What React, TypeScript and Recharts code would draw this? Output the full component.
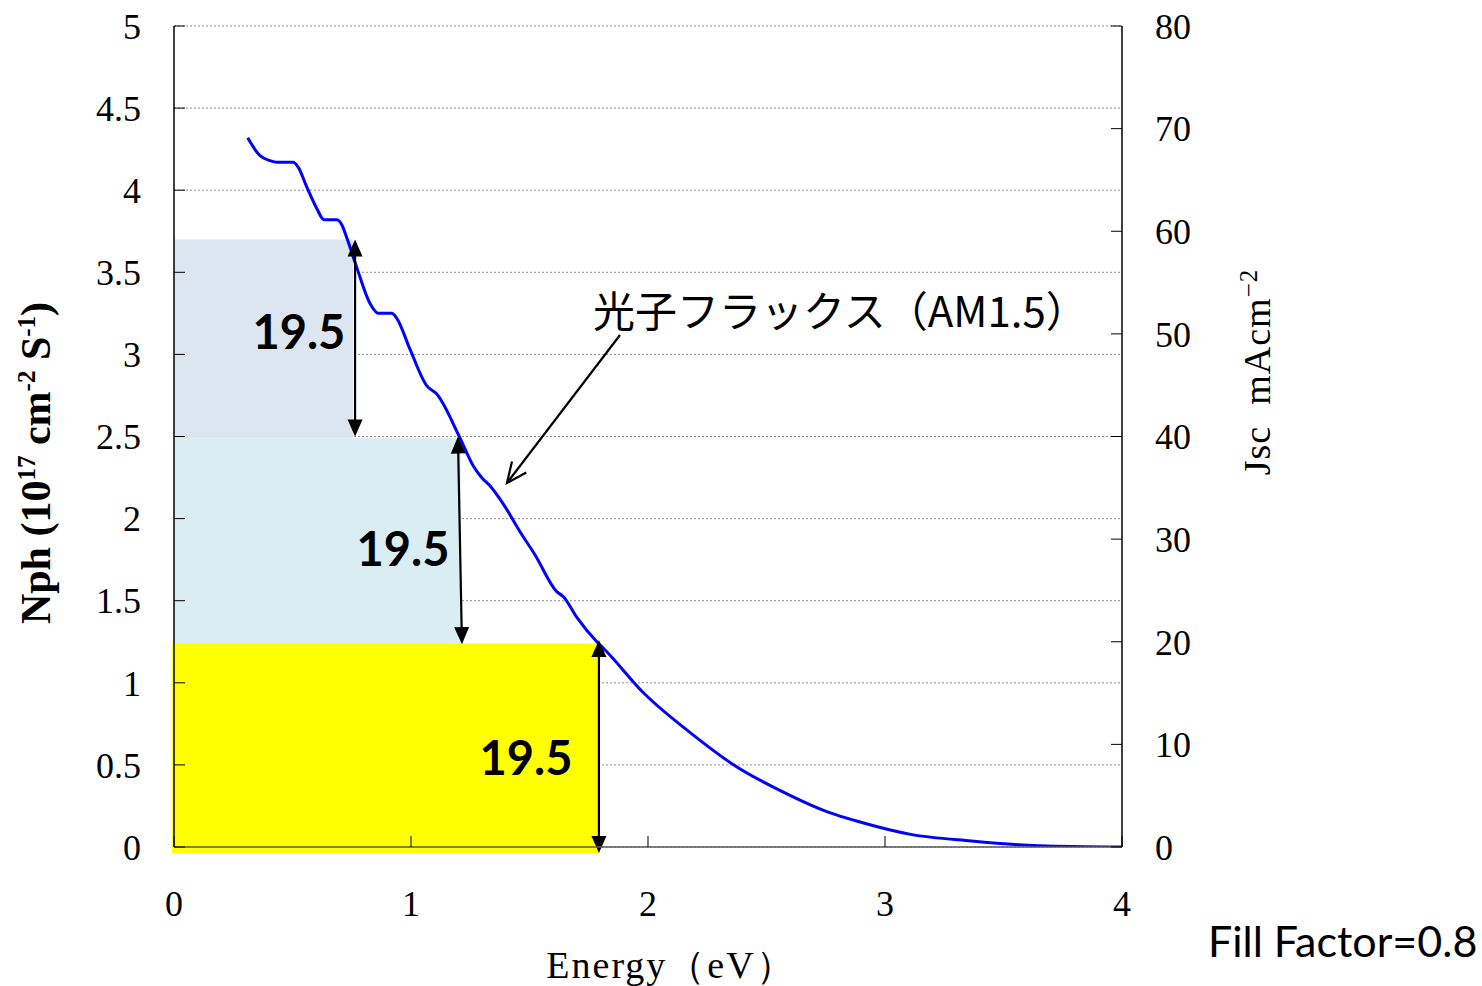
import React from "react";
import {
  ComposedChart,
  Line,
  XAxis,
  YAxis,
  CartesianGrid,
  ReferenceArea,
  ReferenceLine,
  ReferenceDot,
} from "recharts";

// photon flux (AM1.5)
const energy = [
  0.311, 0.363, 0.405, 0.433, 0.503, 0.524, 0.56, 0.602, 0.633, 0.686, 0.708,
  0.729, 0.771, 0.827, 0.862, 0.919, 0.94, 0.996, 1.066, 1.108, 1.207, 1.263,
  1.298, 1.333, 1.389, 1.46, 1.523, 1.615, 1.643, 1.699, 1.784, 1.819, 1.983,
  2.182, 2.367, 2.567, 2.766, 2.88, 3.108, 3.364, 3.649, 4.0,
];
const nph = [
  4.32, 4.21, 4.18, 4.17, 4.17, 4.14, 4.02, 3.89, 3.82, 3.82, 3.79, 3.71, 3.53,
  3.31, 3.25, 3.25, 3.22, 3.03, 2.81, 2.76, 2.49, 2.32, 2.25, 2.2, 2.09, 1.92,
  1.78, 1.555, 1.524, 1.4, 1.25, 1.2, 0.936, 0.692, 0.495, 0.337, 0.209, 0.158,
  0.077, 0.037, 0.008, 0.0,
];

const xTicks = [0, 1, 2, 3, 4];
const leftTicks = [0, 0.5, 1, 1.5, 2, 2.5, 3, 3.5, 4, 4.5, 5];
const rightTicks = [0, 10, 20, 30, 40, 50, 60, 70, 80];

// the three 19.5 mA/cm2 blocks
const blockRight = [0.755, 1.21, 1.793];
const blockTop = [3.7, 2.49, 1.24];
const blockBottom = [2.49, 1.235, -0.036];
const blockColors = ["#dce6f1", "#daedf3", "#ffff00"];
const blockLabel = ["19.5", "19.5", "19.5"];
const labelX = [0.527, 0.966, 1.485];
const labelY = [3.14, 1.82, 0.548];

// double arrows (top end -> bottom end)
const arrowTopX = [0.764, 1.198, 1.793];
const arrowTopY = [3.7, 2.5, 1.26];
const arrowBotX = [0.764, 1.215, 1.793];
const arrowBotY = [2.5, 1.235, -0.036];

const curve = energy.map((e, i) => ({ e, n: nph[i] }));

const serif = "'Liberation Serif', 'Times New Roman', serif";

function DoubleArrow(p: any) {
  const { x1, y1, x2, y2 } = p;
  const dx = x2 - x1;
  const dy = y2 - y1;
  const len = Math.sqrt(dx * dx + dy * dy) || 1;
  const ux = dx / len;
  const uy = dy / len;
  const hl = 17;
  const hw = 7.5;
  const head = (tx: number, ty: number, dir: number) => {
    const bx = tx - dir * ux * hl;
    const by = ty - dir * uy * hl;
    return `${tx},${ty} ${bx - uy * hw},${by + ux * hw} ${bx + uy * hw},${by - ux * hw}`;
  };
  return (
    <g>
      <line
        x1={x1 + ux * hl * 0.8}
        y1={y1 + uy * hl * 0.8}
        x2={x2 - ux * hl * 0.8}
        y2={y2 - uy * hl * 0.8}
        stroke="#000"
        strokeWidth={2.2}
      />
      <polygon points={head(x1, y1, -1)} fill="#000" />
      <polygon points={head(x2, y2, 1)} fill="#000" />
    </g>
  );
}

function OpenArrow(p: any) {
  const { x1, y1, x2, y2 } = p;
  const dx = x2 - x1;
  const dy = y2 - y1;
  const len = Math.sqrt(dx * dx + dy * dy) || 1;
  const ux = dx / len;
  const uy = dy / len;
  const hl = 20;
  const hw = 9;
  const bx = x2 - ux * hl;
  const by = y2 - uy * hl;
  return (
    <g stroke="#000" strokeWidth={2.2} fill="none">
      <line x1={x1} y1={y1} x2={x2} y2={y2} />
      <polyline
        points={`${bx - uy * hw},${by + ux * hw} ${x2},${y2} ${bx + uy * hw},${by - ux * hw}`}
      />
    </g>
  );
}

const BigLabel = (text: string) => (p: any) =>
  (
    <text
      x={p.cx}
      y={p.cy}
      textAnchor="middle"
      dominantBaseline="central"
      fontFamily="Lato, 'Open Sans', sans-serif"
      fontWeight={700}
      fontSize={47}
      fill="#000"
    >
      {text}
    </text>
  );

const FluxLabel = (p: any) => (
  <text
    x={p.cx}
    y={p.cy}
    textAnchor="start"
    dominantBaseline="central"
    fontFamily="'Noto Sans CJK JP', sans-serif"
    fontSize={42}
    fill="#000"
  >
    光子フラックス（AM1.5）
  </text>
);

export default function App() {
  const tickStyle = { fontSize: 36, fill: "#000", fontFamily: serif };
  const sup = { fontSize: 25 };
  return (
    <div
      style={{
        position: "absolute",
        left: 0,
        top: 0,
        width: 1482,
        height: 986,
        background: "#fff",
      }}
    >
      <ComposedChart
        width={1482}
        height={986}
        data={curve}
        margin={{ top: 26, right: 260, bottom: 79, left: 74 }}
      >
        <CartesianGrid
          yAxisId="left"
          horizontal
          vertical={false}
          stroke="#8c8c8c"
          strokeDasharray="2 2"
        />
        <XAxis
          dataKey="e"
          type="number"
          domain={[0, 4]}
          ticks={xTicks}
          height={60}
          tickSize={-11}
          tickMargin={54}
          tick={tickStyle}
          axisLine={{ stroke: "#595959", strokeWidth: 1.5 }}
          tickLine={{ stroke: "#000" }}
          allowDataOverflow
        />
        <YAxis
          yAxisId="left"
          type="number"
          domain={[0, 5]}
          ticks={leftTicks}
          width={100}
          tickSize={-11}
          tickMargin={44}
          tick={tickStyle}
          axisLine={{ stroke: "#000", strokeWidth: 1.5 }}
          tickLine={{ stroke: "#000" }}
          allowDataOverflow
        />
        <YAxis
          yAxisId="right"
          orientation="right"
          type="number"
          domain={[0, 80]}
          ticks={rightTicks}
          width={100}
          tickSize={-11}
          tickMargin={44}
          tick={tickStyle}
          axisLine={{ stroke: "#000", strokeWidth: 1.5 }}
          tickLine={{ stroke: "#000" }}
          allowDataOverflow
        />
        {blockRight.map((r, i) => (
          <ReferenceArea
            key={"area" + i}
            yAxisId="left"
            x1={i === 2 ? -0.008 : 0}
            x2={r}
            y1={blockBottom[i]}
            y2={blockTop[i]}
            fill={blockColors[i]}
            fillOpacity={1}
            stroke="none"
            ifOverflow="visible"
          />
        ))}
        <Line
          yAxisId="left"
          dataKey="n"
          type="monotone"
          stroke="#0000ff"
          strokeWidth={3}
          dot={false}
          activeDot={false}
          isAnimationActive={false}
        />
        {arrowTopX.map((x, i) => (
          <ReferenceLine
            key={"arrow" + i}
            yAxisId="left"
            segment={[
              { x, y: arrowTopY[i] },
              { x: arrowBotX[i], y: arrowBotY[i] },
            ]}
            ifOverflow="visible"
            shape={(p: any) => <DoubleArrow {...p} />}
          />
        ))}
        <ReferenceLine
          yAxisId="left"
          segment={[
            { x: 1.882, y: 3.118 },
            { x: 1.405, y: 2.217 },
          ]}
          ifOverflow="visible"
          shape={(p: any) => <OpenArrow {...p} />}
        />
        {labelX.map((x, i) => (
          <ReferenceDot
            key={"lbl" + i}
            yAxisId="left"
            x={x}
            y={labelY[i]}
            r={0}
            ifOverflow="visible"
            shape={BigLabel(blockLabel[i])}
          />
        ))}
        <ReferenceDot
          yAxisId="left"
          x={1.768}
          y={3.28}
          r={0}
          ifOverflow="visible"
          shape={FluxLabel}
        />
      </ComposedChart>

      {/* axis titles */}
      <div
        style={{
          position: "absolute",
          left: 36,
          top: 463,
          transform: "translate(-50%, -50%) rotate(-90deg)",
          whiteSpace: "nowrap",
          fontFamily: serif,
          fontWeight: 700,
          fontSize: 42,
          color: "#000",
        }}
      >
        Nph (10<sup style={sup}>17</sup> cm<sup style={sup}>-2</sup> S
        <sup style={sup}>-1</sup>)
      </div>
      <div
        style={{
          position: "absolute",
          left: 1257,
          top: 372,
          transform: "translate(-50%, -50%) rotate(-90deg)",
          whiteSpace: "nowrap",
          fontFamily: serif,
          fontSize: 38,
          letterSpacing: 1,
          color: "#000",
        }}
      >
        Jsc&nbsp;&nbsp;mAcm<sup style={sup}>−2</sup>
      </div>
      <div
        style={{
          position: "absolute",
          left: 671,
          top: 965,
          transform: "translate(-50%, -50%)",
          whiteSpace: "nowrap",
          fontFamily: serif,
          fontSize: 38,
          letterSpacing: 2,
          color: "#000",
        }}
      >
        Energy（eV）
      </div>
      <div
        style={{
          position: "absolute",
          left: 1208,
          top: 940,
          transform: "translate(0, -50%)",
          whiteSpace: "nowrap",
          fontFamily: "Lato, 'Open Sans', sans-serif",
          fontSize: 43,
          color: "#000",
        }}
      >
        Fill Factor=0.8
      </div>
    </div>
  );
}
